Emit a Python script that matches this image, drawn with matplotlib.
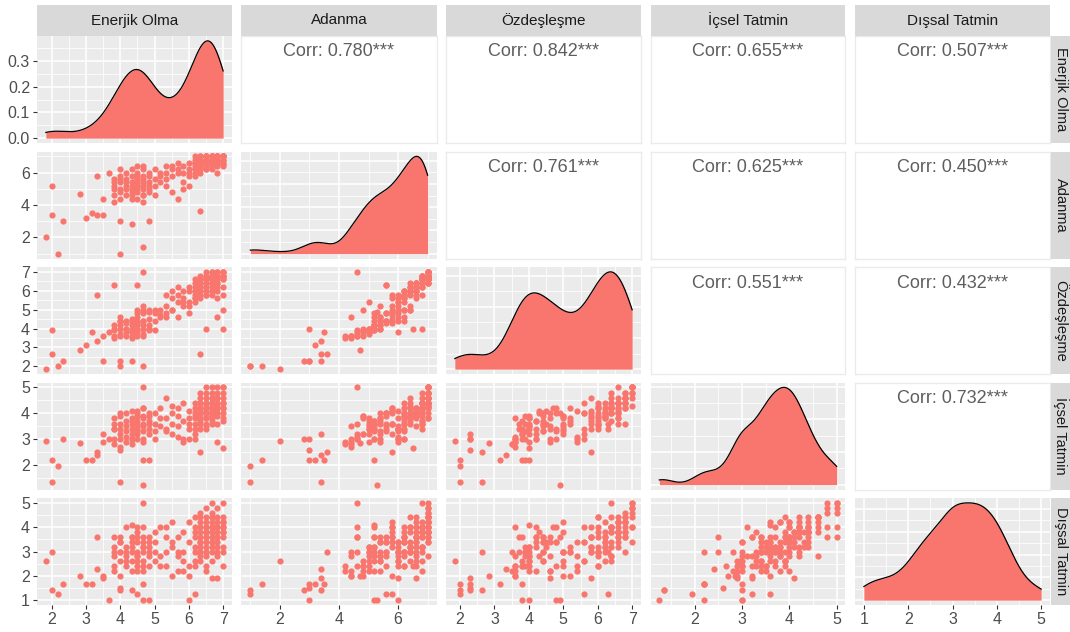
import matplotlib.pyplot as plt
import numpy as np
from matplotlib.ticker import MaxNLocator

plt.rcParams["font.family"] = ["Liberation Sans", "DejaVu Sans"]

W, H = 1070, 632

var_names = ["Enerjik Olma", "Adanma", "Özdeşleşme", "İçsel Tatmin", "Dışsal Tatmin"]
row_strip_names = ["Enerjik Olma", "Adanma", "Özdeşleşme", "İçsel Tatmin", "Dışsal Tatmin"]

# upper triangle, row by row
corr_values = ["0.780", "0.842", "0.655", "0.507", "0.761", "0.625", "0.450", "0.551", "0.432", "0.732"]

axis_breaks = [
    [2, 3, 4, 5, 6, 7],
    [2, 4, 6],
    [2, 3, 4, 5, 6, 7],
    [2, 3, 4, 5],
    [1, 2, 3, 4, 5],
]
density_breaks = [0.0, 0.1, 0.2, 0.3]

enerjik = [
    1.83, 2.0, 2.0, 2.17, 2.33, 2.83, 3.0, 3.17, 3.33, 3.33,
    3.5, 3.67, 4.0, 4.0, 4.33, 4.67, 4.67, 4.67, 4.83, 4.5,
    3.83, 6.33, 6.0, 6.17, 6.83, 7.0, 6.5, 3.5,
    3.83, 3.83, 3.83, 3.83, 4.0, 4.0, 4.0, 4.0, 4.0, 4.17,
    4.17, 4.17, 4.17, 4.17, 4.33, 4.33, 4.33, 4.33, 4.33, 4.33,
    4.5, 4.5, 4.5, 4.5, 4.5, 4.5, 4.5, 4.5, 4.67, 4.67,
    4.67, 4.67, 4.67, 4.67, 4.67, 4.83, 4.83, 4.83, 4.83, 4.83,
    5.0, 5.0, 5.0, 5.0, 5.17, 5.17, 5.17, 4.0, 4.33, 4.5,
    4.67, 4.17, 4.33, 4.83, 3.83, 4.0, 4.5, 4.67,
    5.33, 5.33, 5.5, 5.5, 5.5, 5.67, 5.67, 5.67, 5.83, 5.83,
    5.83, 6.0, 6.0, 6.0, 5.5, 5.33, 5.83, 6.0, 5.67, 5.33,
    6.17, 6.17, 6.17, 6.17, 6.17, 6.17, 6.17, 6.17, 6.33, 6.33,
    6.33, 6.33, 6.33, 6.33, 6.33, 6.33, 6.33, 6.33, 6.33, 6.33,
    6.5, 6.5, 6.5, 6.5, 6.5, 6.5, 6.5, 6.5, 6.5, 6.5,
    6.5, 6.5, 6.5, 6.5, 6.5, 6.5, 6.67, 6.67, 6.67, 6.67,
    6.67, 6.67, 6.67, 6.67, 6.67, 6.67, 6.67, 6.67, 6.67, 6.67,
    6.67, 6.67, 6.83, 6.83, 6.83, 6.83, 6.83, 6.83, 6.83, 6.83,
    6.83, 6.83, 6.83, 6.83, 7.0, 7.0, 7.0, 7.0, 7.0, 7.0,
    7.0, 7.0, 7.0, 7.0, 7.0,
]
adanma = [
    2.0, 5.2, 3.4, 1.0, 3.0, 4.7, 3.2, 3.5, 3.4, 5.8,
    3.4, 6.0, 1.0, 3.0, 2.8, 1.4, 4.6, 5.3, 3.0, 5.6,
    5.6, 3.6, 5.2, 5.8, 6.0, 6.5, 6.8, 4.4,
    4.6, 5.0, 5.4, 4.2, 5.0, 5.4, 4.8, 5.8, 4.4, 5.2,
    5.6, 4.6, 5.0, 6.0, 5.2, 5.4, 4.8, 5.8, 5.0, 4.4,
    5.2, 5.6, 4.8, 5.0, 5.4, 6.0, 4.4, 5.8, 5.0, 5.4,
    4.6, 5.8, 5.2, 6.2, 4.2, 5.4, 5.0, 5.8, 4.8, 6.0,
    5.2, 5.6, 6.2, 4.6, 5.8, 6.0, 5.4, 6.2, 6.2, 5.2,
    5.6, 5.4, 4.6, 5.2, 5.2, 5.6, 6.4, 6.4,
    6.0, 5.6, 6.2, 5.8, 6.4, 6.0, 6.2, 4.4, 6.0, 6.4,
    5.4, 6.2, 6.0, 6.6, 4.8, 6.4, 5.0, 5.8, 6.6, 5.2,
    6.2, 6.6, 6.0, 6.8, 6.4, 7.0, 6.2, 6.6, 6.4, 6.8,
    6.2, 7.0, 6.6, 6.0, 6.8, 6.4, 7.0, 6.6, 6.8, 6.2,
    6.8, 7.0, 6.6, 6.4, 6.8, 7.0, 6.2, 6.6, 7.0, 6.8,
    6.4, 7.0, 6.6, 6.8, 6.2, 7.0, 6.8, 7.0, 6.6, 7.0,
    6.4, 6.8, 7.0, 6.6, 6.8, 7.0, 6.2, 6.8, 7.0, 6.6,
    6.8, 7.0, 7.0, 6.8, 7.0, 6.6, 7.0, 6.8, 6.4, 7.0,
    6.8, 7.0, 6.6, 7.0, 7.0, 7.0, 6.8, 7.0, 6.6, 7.0,
    6.8, 7.0, 7.0, 6.4, 7.0,
]
ozdeslesme = [
    1.85, 3.9, 2.65, 2.0, 2.3, 2.85, 3.15, 3.8, 3.35, 5.8,
    2.3, 3.8, 2.0, 2.3, 2.3, 2.0, 7.0, 4.9, 4.0, 6.3,
    6.3, 2.65, 4.8, 5.6, 4.6, 4.0, 4.0, 3.6,
    3.6, 3.9, 4.0, 3.5, 3.7, 4.2, 4.0, 4.4, 3.6, 4.0,
    4.3, 3.6, 3.8, 4.4, 4.0, 4.2, 3.6, 4.5, 3.8, 3.5,
    4.2, 4.4, 3.8, 4.0, 4.6, 4.8, 3.6, 4.3, 4.0, 4.4,
    3.7, 4.8, 4.2, 5.0, 3.6, 4.5, 4.0, 4.9, 3.9, 5.0,
    4.4, 4.8, 5.0, 3.9, 4.7, 5.0, 4.6, 4.6, 4.4, 3.9,
    4.4, 4.0, 3.8, 4.2, 4.2, 4.4, 5.0, 5.2,
    5.2, 4.8, 5.6, 5.0, 6.0, 5.4, 5.8, 4.6, 5.6, 6.0,
    5.2, 6.0, 5.4, 6.2, 5.0, 5.8, 5.4, 5.2, 6.2, 4.6,
    5.8, 6.0, 5.6, 6.4, 6.2, 6.6, 5.4, 6.0, 6.2, 6.4,
    6.0, 6.8, 6.4, 5.8, 6.6, 6.0, 6.6, 6.2, 6.4, 5.6,
    6.4, 6.8, 6.2, 6.0, 6.6, 7.0, 5.8, 6.4, 6.6, 6.2,
    6.4, 6.8, 6.0, 6.6, 5.8, 6.4, 6.6, 7.0, 6.4, 6.8,
    6.0, 6.4, 6.6, 6.2, 6.8, 7.0, 6.0, 6.6, 6.4, 5.8,
    6.8, 6.6, 6.8, 6.6, 7.0, 6.4, 6.8, 6.2, 6.0, 6.6,
    6.8, 7.0, 5.6, 6.4, 7.0, 6.8, 6.6, 7.0, 6.2, 6.8,
    5.8, 7.0, 6.6, 5.0, 6.8,
]
icsel = [
    2.95, 2.2, 1.35, 1.95, 3.0, 2.85, 2.2, 2.2, 2.4, 2.5,
    3.2, 3.0, 1.35, 2.6, 3.0, 2.2, 5.0, 1.25, 2.2, 3.6,
    3.4, 2.5, 3.0, 3.2, 2.9, 2.65, 3.4, 2.9,
    3.0, 3.6, 3.8, 2.8, 3.4, 3.2, 3.9, 3.6, 2.7, 3.5,
    4.0, 3.1, 3.7, 3.3, 3.6, 3.0, 3.8, 4.1, 3.4, 2.8,
    3.7, 3.9, 3.2, 3.5, 4.0, 3.4, 3.0, 4.1, 3.8, 3.3,
    3.6, 4.2, 3.0, 3.9, 2.9, 3.6, 3.2, 4.0, 3.9, 3.4,
    3.6, 4.0, 3.3, 3.0, 4.2, 3.5, 3.8, 3.0, 3.7, 3.3,
    3.5, 2.9, 3.2, 3.7, 3.4, 4.0, 3.9, 4.2,
    3.8, 3.3, 4.0, 3.6, 4.3, 3.1, 3.9, 3.5, 3.0, 4.4,
    3.7, 3.4, 4.1, 3.8, 3.2, 4.6, 2.9, 3.6, 4.2, 3.4,
    3.6, 4.0, 3.4, 4.2, 3.8, 4.4, 3.0, 3.9, 4.0, 4.4,
    3.6, 4.8, 4.2, 3.4, 4.0, 3.8, 4.6, 4.1, 3.7, 4.4,
    4.2, 4.6, 3.9, 3.6, 4.4, 5.0, 4.0, 4.2, 3.8, 4.4,
    4.0, 4.8, 3.5, 4.1, 3.8, 4.3, 4.4, 4.6, 4.0, 4.2,
    3.7, 4.8, 4.0, 3.9, 4.4, 5.0, 4.2, 3.6, 4.4, 4.1,
    4.6, 3.8, 4.6, 4.2, 4.8, 4.0, 4.4, 3.9, 4.2, 5.0,
    3.6, 4.3, 4.0, 4.6, 5.0, 4.4, 4.2, 4.8, 4.0, 4.6,
    3.7, 5.0, 4.4, 3.8, 4.2,
]
dissal = [
    2.6, 3.0, 1.4, 1.25, 1.65, 2.0, 1.65, 1.65, 2.3, 3.6,
    1.9, 1.0, 1.4, 1.5, 1.4, 1.65, 5.0, 1.0, 1.0, 1.25,
    3.0, 3.0, 1.0, 1.25, 1.9, 2.4, 2.2, 2.0,
    2.4, 3.2, 2.8, 2.2, 3.0, 3.6, 2.6, 3.4, 2.0, 3.2,
    2.8, 4.0, 2.4, 3.0, 4.1, 3.4, 2.2, 3.2, 2.6, 3.0,
    4.0, 3.6, 2.4, 3.0, 2.2, 3.4, 2.8, 3.8, 3.2, 2.6,
    3.6, 4.0, 2.2, 3.0, 2.4, 3.4, 2.8, 3.6, 2.4, 3.0,
    2.6, 3.4, 3.8, 3.0, 4.0, 2.4, 2.8, 3.4, 3.6, 2.8,
    3.4, 2.6, 3.6, 3.2, 3.6, 3.0, 2.6, 3.2,
    3.0, 2.4, 3.4, 4.2, 3.2, 2.8, 3.6, 2.2, 2.6, 3.8,
    3.0, 2.4, 3.4, 4.2, 2.0, 4.0, 2.2, 2.0, 3.0, 3.6,
    3.0, 3.6, 2.6, 4.0, 3.2, 3.8, 2.4, 4.4, 3.4, 4.0,
    2.8, 4.6, 3.8, 3.2, 4.2, 3.0, 4.4, 3.6, 2.6, 3.4,
    4.0, 4.4, 3.4, 3.0, 3.8, 4.8, 3.6, 2.8, 4.2, 3.2,
    4.0, 3.6, 2.4, 3.8, 3.0, 3.8, 4.0, 4.4, 3.4, 3.8,
    3.0, 5.0, 4.2, 2.6, 3.6, 4.6, 4.0, 3.2, 4.4, 1.9,
    3.8, 3.4, 4.2, 3.6, 4.8, 3.2, 4.0, 3.8, 4.4, 3.6,
    3.0, 3.4, 4.0, 2.8, 5.0, 4.2, 3.8, 4.0, 3.6, 4.4,
    3.2, 4.0, 3.8, 3.0, 4.2,
]

data = [np.array(v, dtype=float) for v in (enerjik, adanma, ozdeslesme, icsel, dissal)]

POINT = "#F8766D"
PANEL_BG = "#EBEBEB"
STRIP_BG = "#D9D9D9"


def px_axes(fig, left, top, width, height):
    return fig.add_axes([left / W, 1 - (top + height) / H, width / W, height / H])


def expand(lo, hi, mult=0.05):
    d = (hi - lo) * mult
    return lo - d, hi + d


def minor_breaks(major, lims):
    step = major[1] - major[0]
    ext = [major[0] - step] + list(major) + [major[-1] + step]
    mids = [(a + b) / 2 for a, b in zip(ext[:-1], ext[1:])]
    return [m for m in mids if lims[0] <= m <= lims[1]]


def kde_nrd0(x, grid):
    n = len(x)
    q75, q25 = np.percentile(x, [75, 25])
    bw = 0.9 * min(x.std(ddof=1), (q75 - q25) / 1.34) * n ** -0.2
    z = (grid[:, None] - x[None, :]) / bw
    return np.exp(-0.5 * z ** 2).sum(axis=1) / (n * bw * np.sqrt(2 * np.pi))


def style_grid(ax, xmaj, xlims, ymaj, ylims):
    ax.set_facecolor(PANEL_BG)
    ax.set_xlim(*xlims)
    ax.set_ylim(*ylims)
    ax.set_xticks(xmaj)
    ax.set_yticks(ymaj)
    ax.set_xticks(minor_breaks(xmaj, xlims), minor=True)
    ax.set_yticks(minor_breaks(ymaj, ylims), minor=True)
    ax.grid(which="major", color="white", linewidth=1.1)
    ax.grid(which="minor", color="white", linewidth=0.55)
    ax.set_axisbelow(True)
    for s in ax.spines.values():
        s.set_visible(False)
    ax.tick_params(which="both", length=0, labelbottom=False, labelleft=False)


fig = plt.figure(figsize=(W / 100, H / 100), dpi=100)

n_var = len(data)
col_left = [37 + 204.5 * j for j in range(n_var)]
row_top = [36 + 115.5 * i for i in range(n_var)]
pw, ph = 195, 107

lims = [expand(d.min(), d.max()) for d in data]

corr_iter = iter(corr_values)
for i in range(n_var):
    for j in range(n_var):
        ax = px_axes(fig, col_left[j], row_top[i], pw, ph)
        if i == j:
            x = data[i]
            grid = np.linspace(x.min(), x.max(), 512)
            dens = kde_nrd0(x, grid)
            ylims = (-0.05 * dens.max(), 1.05 * dens.max())
            ymaj = density_breaks if i == 0 else MaxNLocator(nbins=5, steps=[1, 2, 5, 10]).tick_values(0, dens.max())
            ymaj = [t for t in ymaj if ylims[0] <= t <= ylims[1]]
            style_grid(ax, axis_breaks[j], lims[j], ymaj, ylims)
            ax.fill_between(grid, 0, dens, color=POINT, linewidth=0)
            ax.plot(grid, dens, color="black", linewidth=0.9)
            if i == 0:
                ax.set_yticklabels([f"{t:.1f}" for t in ymaj])
        elif i > j:
            style_grid(ax, axis_breaks[j], lims[j], axis_breaks[i], lims[i])
            ax.scatter(data[j], data[i], s=20, color=POINT, linewidths=0)
            if j == 0:
                ax.set_yticklabels([str(t) for t in axis_breaks[i]])
        else:
            ax.set_facecolor("white")
            ax.set_xticks([])
            ax.set_yticks([])
            for s in ax.spines.values():
                s.set_color(PANEL_BG)
                s.set_linewidth(1.0)
            ax.text(0.5, 1 - 16 / ph, f"Corr: {next(corr_iter)}***", transform=ax.transAxes,
                    ha="center", va="center", fontsize=13, color="#5E5E5E")
            continue

        if j == 0:
            ax.tick_params(axis="y", which="major", length=3, width=0.8, color="#333333",
                           labelleft=True, labelsize=11.5, labelcolor="#4D4D4D", pad=2)
        if i == n_var - 1:
            ax.set_xticklabels([str(t) for t in axis_breaks[j]])
            ax.tick_params(axis="x", which="major", length=3, width=0.8, color="#333333",
                           labelbottom=True, labelsize=11.5, labelcolor="#4D4D4D", pad=2)

# strips
for j, name in enumerate(var_names):
    sax = px_axes(fig, col_left[j], 5, pw, 31)
    sax.set_facecolor(STRIP_BG)
    sax.set_xticks([])
    sax.set_yticks([])
    for s in sax.spines.values():
        s.set_visible(False)
    sax.text(0.5, 0.5, name, transform=sax.transAxes, ha="center", va="center",
             fontsize=11, color="#1A1A1A")

for i, name in enumerate(row_strip_names):
    sax = px_axes(fig, 1051, row_top[i], 19, ph)
    sax.set_facecolor(STRIP_BG)
    sax.set_xticks([])
    sax.set_yticks([])
    for s in sax.spines.values():
        s.set_visible(False)
    sax.text(0.5, 0.5, name, transform=sax.transAxes, ha="center", va="center",
             rotation=-90, fontsize=10.5, color="#1A1A1A")

fig.savefig("out.png", dpi=100, facecolor="white")
